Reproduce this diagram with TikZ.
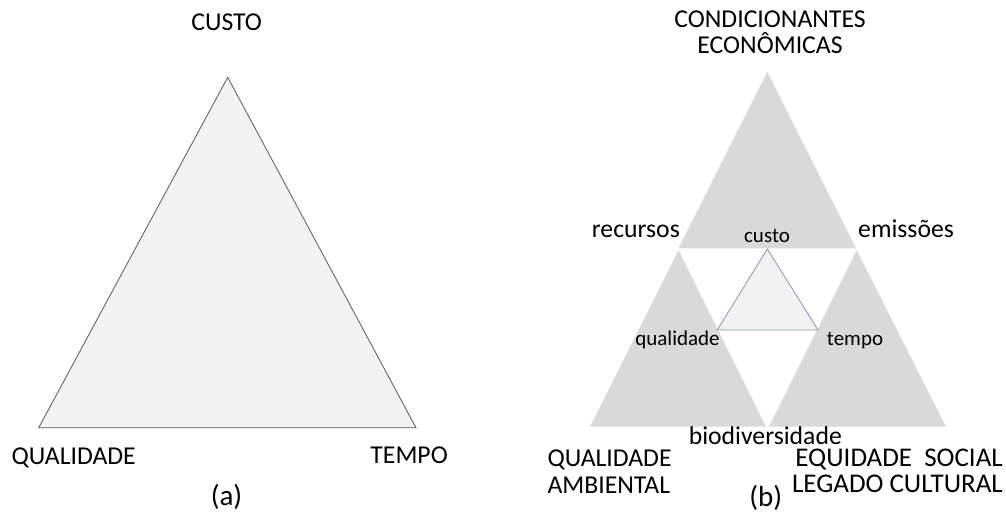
\documentclass[tikz,border=0pt]{standalone}
\usepackage{fontspec}
\setmainfont{Carlito}
\definecolor{tridark}{HTML}{595959}
\definecolor{trilight}{HTML}{F2F2F2}
\definecolor{trigray}{HTML}{D9D9D9}
\definecolor{triblue}{HTML}{8497B0}
\tikzset{
  big/.style={inner sep=0pt, font=\fontsize{25.7}{30}\selectfont},
  bigger/.style={inner sep=0pt, font=\fontsize{27}{32}\selectfont},
  small/.style={inner sep=0pt, font=\fontsize{21}{25}\selectfont},
  panel/.style={inner sep=0pt, font=\fontsize{29}{34}\selectfont},
  graytri/.style={fill=trigray, draw=none},
}
\begin{document}
\begin{tikzpicture}[x=1pt,y=-1pt]
\useasboundingbox (0,0) rectangle (1006,513);
% panel (a)
\filldraw[fill=trilight, draw=tridark, line width=0.8pt, line join=miter]
  (38.7,427.7) -- (227.7,77.3) -- (416,427.7) -- cycle;
\node[big, anchor=base] (custoA) at (226.7,31) {CUSTO};
\node[big, anchor=base west] (qualA) at (11.5,464) {QUALIDADE};
\node[big, anchor=base east] (tempoA) at (448,463) {TEMPO};
\node[panel, anchor=base] (labA) at (226.5,505) {(a)};
% panel (b)
\fill[graytri] (678.5,248.3) -- (767.3,71.7) -- (856,248.3) -- cycle;
\fill[graytri] (590,426.7) -- (678.5,250.2) -- (766,426.7) -- cycle;
\fill[graytri] (769,426.7) -- (856.7,250.2) -- (946,426.7) -- cycle;
\filldraw[fill=trilight, draw=triblue, line width=0.8pt]
  (717.3,330) -- (767.3,249) -- (818,330) -- cycle;
\node[big, anchor=base] (cond1) at (770,28) {CONDICIONANTES};
\node[big, anchor=base] (cond2) at (770,53.3) {ECONÔMICAS};
\node[big, anchor=base east] (recursos) at (680,237) {recursos};
\node[big, anchor=base west] (emissoes) at (858,237) {emissões};
\node[small, anchor=base] (custoB) at (767,242.3) {custo};
\node[small, anchor=base] (qualB) at (677.5,345) {qualidade};
\node[small, anchor=base] (tempoB) at (855,345) {tempo};
\node[big, anchor=base] (bio) at (765.3,444) {biodiversidade};
\node[big, anchor=base west] (qamb1) at (547.3,466.7) {QUALIDADE};
\node[big, anchor=base west] (qamb2) at (547.3,493) {AMBIENTAL};
\node[bigger, anchor=base east] (eq1) at (1003,466.7) {EQUIDADE\ \ SOCIAL};
\node[bigger, anchor=base east] (eq2) at (1003,492) {LEGADO CULTURAL};
\node[panel, anchor=base] (labB) at (765.7,506) {(b)};
\end{tikzpicture}
\end{document}
